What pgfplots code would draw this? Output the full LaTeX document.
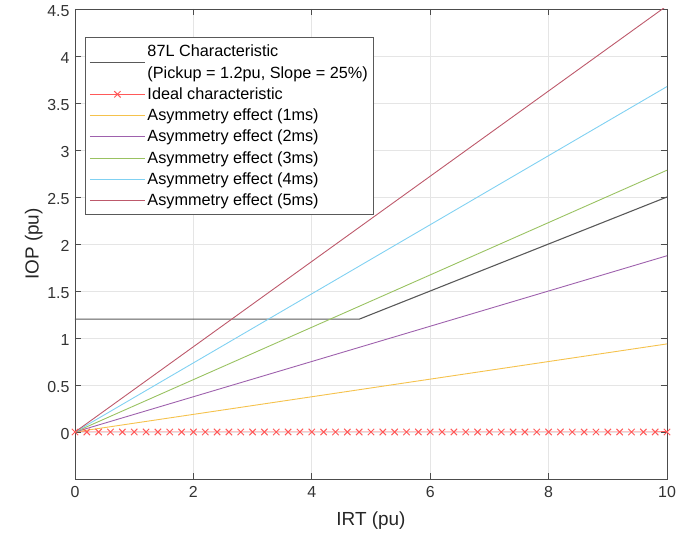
\documentclass[border=0pt]{standalone}
\usepackage{fontspec}
\setmainfont{Liberation Sans}
\usepackage{pgfplots}
\pgfplotsset{compat=1.18}
\definecolor{c87}{rgb}{0.35,0.35,0.35}
\definecolor{cideal}{rgb}{1,0.35,0.35}
\definecolor{c1}{rgb}{0.96,0.76,0.30}
\definecolor{c2}{rgb}{0.62,0.38,0.68}
\definecolor{c3}{rgb}{0.60,0.76,0.38}
\definecolor{c4}{rgb}{0.50,0.82,0.95}
\definecolor{c5}{rgb}{0.74,0.35,0.42}
\begin{document}
\begin{tikzpicture}
\begin{axis}[
  scale only axis,
  width=592bp, height=470bp,
  xmin=0, xmax=10, ymin=-0.5, ymax=4.5,
  xtick={0,2,4,6,8,10},
  ytick={0,0.5,1,1.5,2,2.5,3,3.5,4,4.5},
  yticklabels={0,0.5,1,1.5,2,2.5,3,3.5,4,4.5},
  /pgf/number format/assume math mode=true,
  tick label style={font=\fontsize{16}{19}\selectfont, text=black!80},
  xlabel={IRT (pu)}, ylabel={IOP (pu)},
  label style={font=\fontsize{19}{22}\selectfont, text=black!85},
  grid=major,
  major grid style={draw=black!10, line width=0.7pt},
  tick align=inside,
  major tick length=6bp,
  axis line style={draw=black!70, line width=0.7pt},
  tick style={draw=black!70, line width=0.7pt},
  xticklabel style={yshift=-4bp},
  yticklabel style={xshift=-2bp, yshift=-2bp},
  xlabel style={yshift=-7bp},
  ylabel style={yshift=-2bp},
  legend cell align=left,
  legend style={
    at={(rel axis cs:0.017,0.94)}, anchor=north west,
    font=\fontsize{16.3}{21.5}\selectfont,
    draw=black!65, line width=0.7pt, fill=white,
    cells={align=left},
    row sep=4bp, inner xsep=4bp, inner ysep=5.5bp,
  },
  legend image code/.code={\draw[mark repeat=2,mark phase=2,#1] plot coordinates {(0cm,0cm) (0.97cm,0cm) (1.94cm,0cm)};},
]
\addplot[c87, line width=1.1pt] coordinates {(0,1.2) (4.8,1.2) (10,2.5)};
\addlegendentry{87L Characteristic\\(Pickup = 1.2pu, Slope = 25\%)}
\addplot[cideal, line width=1pt, mark=x, mark size=4.5bp, mark options={solid, line width=1pt}] coordinates {
(0,0) (0.2,0) (0.4,0) (0.6,0) (0.8,0) (1,0) (1.2,0) (1.4,0) (1.6,0) (1.8,0)
(2,0) (2.2,0) (2.4,0) (2.6,0) (2.8,0) (3,0) (3.2,0) (3.4,0) (3.6,0) (3.8,0)
(4,0) (4.2,0) (4.4,0) (4.6,0) (4.8,0) (5,0) (5.2,0) (5.4,0) (5.6,0) (5.8,0)
(6,0) (6.2,0) (6.4,0) (6.6,0) (6.8,0) (7,0) (7.2,0) (7.4,0) (7.6,0) (7.8,0)
(8,0) (8.2,0) (8.4,0) (8.6,0) (8.8,0) (9,0) (9.2,0) (9.4,0) (9.6,0) (9.8,0) (10,0)};
\addlegendentry{Ideal characteristic}
\addplot[c1, line width=0.9pt] coordinates {(0,0) (10,0.937)};
\addlegendentry{Asymmetry effect (1ms)}
\addplot[c2, line width=0.9pt] coordinates {(0,0) (10,1.875)};
\addlegendentry{Asymmetry effect (2ms)}
\addplot[c3, line width=0.9pt] coordinates {(0,0) (10,2.785)};
\addlegendentry{Asymmetry effect (3ms)}
\addplot[c4, line width=0.9pt] coordinates {(0,0) (10,3.675)};
\addlegendentry{Asymmetry effect (4ms)}
\addplot[c5, line width=0.9pt] coordinates {(0,0) (10,4.535)};
\addlegendentry{Asymmetry effect (5ms)}
\coordinate (bl) at (rel axis cs:0,0);
\coordinate (tr) at (rel axis cs:1,1);
\end{axis}
\path ([shift={(-75bp,-53bp)}]bl) rectangle ([shift={(32bp,9bp)}]tr);
\end{tikzpicture}
\end{document}
